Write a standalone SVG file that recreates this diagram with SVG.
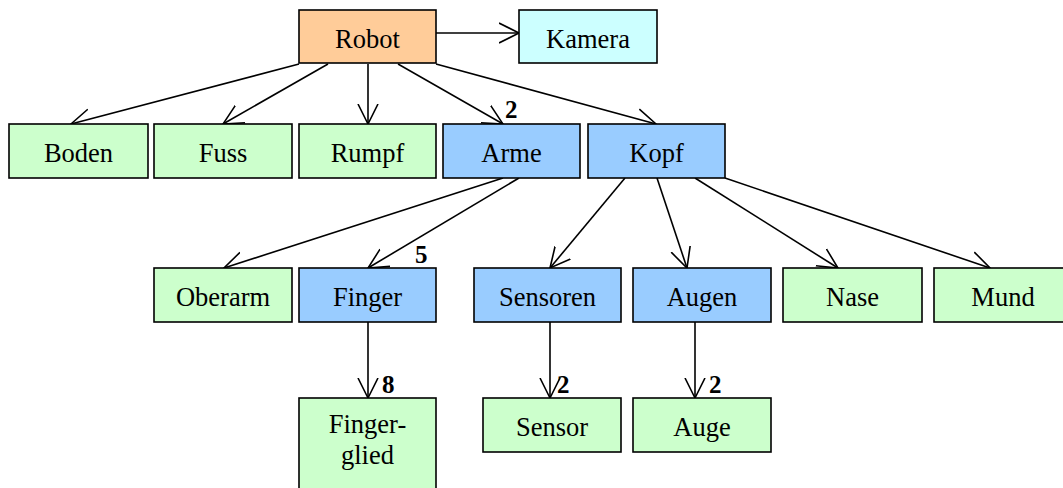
<svg xmlns="http://www.w3.org/2000/svg" width="1063" height="488" viewBox="0 0 1063 488">
<style>
rect{stroke:#000;stroke-width:1.6}
.o{fill:#FFCC99}.c{fill:#CCFFFF}.g{fill:#CCFFCC}.b{fill:#99CCFF}
text{font-family:"Liberation Serif","Times New Roman",serif;font-size:26.5px;fill:#000}
.t{text-anchor:middle}
.n{font-weight:bold;font-size:25px}
#edges line{stroke:#000;stroke-width:1.6;marker-end:url(#ah)}
</style>
<defs>
<marker id="ah" markerUnits="userSpaceOnUse" viewBox="0 0 22 22" markerWidth="22" markerHeight="22" refX="20" refY="11" orient="auto">
<path d="M0,1 L20,11 L0,21" fill="none" stroke="#000" stroke-width="1.6"/>
</marker>
</defs>
<rect width="1063" height="488" fill="#fff" style="stroke:none"/>
<g id="edges">
<line x1="436" y1="33" x2="519" y2="33"/>
<line x1="299" y1="64" x2="71" y2="124"/>
<line x1="328" y1="64" x2="223" y2="124"/>
<line x1="368" y1="64" x2="368" y2="124"/>
<line x1="398" y1="64" x2="503" y2="124"/>
<line x1="436" y1="64" x2="656" y2="124"/>
<line x1="503" y1="178" x2="224" y2="268"/>
<line x1="519" y1="178" x2="368" y2="268"/>
<line x1="368" y1="322" x2="368" y2="398"/>
<line x1="625" y1="178" x2="550" y2="268"/>
<line x1="657" y1="178" x2="687" y2="268"/>
<line x1="695" y1="178" x2="838" y2="268"/>
<line x1="725" y1="178" x2="990" y2="268"/>
<line x1="550" y1="322" x2="550" y2="398"/>
<line x1="695" y1="322" x2="695" y2="398"/>
</g>
<g id="labels">
<text class="n" x="505" y="118">2</text>
<text class="n" x="415" y="263">5</text>
<text class="n" x="382" y="393">8</text>
<text class="n" x="557" y="393">2</text>
<text class="n" x="709" y="393">2</text>
</g>
<g id="robot"><rect class="o" x="299" y="10" width="137" height="53"/><text class="t" x="367.5" y="48">Robot</text></g>
<g id="kamera"><rect class="c" x="519" y="10" width="138" height="53"/><text class="t" x="588" y="48">Kamera</text></g>
<g id="boden"><rect class="g" x="9" y="124" width="139" height="54"/><text class="t" x="78.5" y="162">Boden</text></g>
<g id="fuss"><rect class="g" x="154" y="124" width="138" height="54"/><text class="t" x="223" y="162">Fuss</text></g>
<g id="rumpf"><rect class="g" x="299" y="124" width="137" height="54"/><text class="t" x="367.5" y="162">Rumpf</text></g>
<g id="arme"><rect class="b" x="443" y="124" width="137" height="54"/><text class="t" x="511.5" y="162">Arme</text></g>
<g id="kopf"><rect class="b" x="588" y="124" width="137" height="54"/><text class="t" x="656.5" y="162">Kopf</text></g>
<g id="oberarm"><rect class="g" x="154" y="268" width="138" height="54"/><text class="t" x="223" y="306">Oberarm</text></g>
<g id="finger"><rect class="b" x="299" y="268" width="137" height="54"/><text class="t" x="367.5" y="306">Finger</text></g>
<g id="sensoren"><rect class="b" x="474" y="268" width="147" height="54"/><text class="t" x="547.5" y="306">Sensoren</text></g>
<g id="augen"><rect class="b" x="633" y="268" width="138" height="54"/><text class="t" x="702" y="306">Augen</text></g>
<g id="nase"><rect class="g" x="783" y="268" width="139" height="54"/><text class="t" x="852.5" y="306">Nase</text></g>
<g id="mund"><rect class="g" x="934" y="268" width="138" height="54"/><text class="t" x="1003" y="306">Mund</text></g>
<g id="fingerglied"><rect class="g" x="299" y="398" width="137" height="100"/><text class="t" x="367.5" y="433">Finger-</text><text class="t" x="367.5" y="464">glied</text></g>
<g id="sensor"><rect class="g" x="483" y="398" width="138" height="54"/><text class="t" x="552" y="436">Sensor</text></g>
<g id="auge"><rect class="g" x="633" y="398" width="138" height="54"/><text class="t" x="702" y="436">Auge</text></g>
</svg>
